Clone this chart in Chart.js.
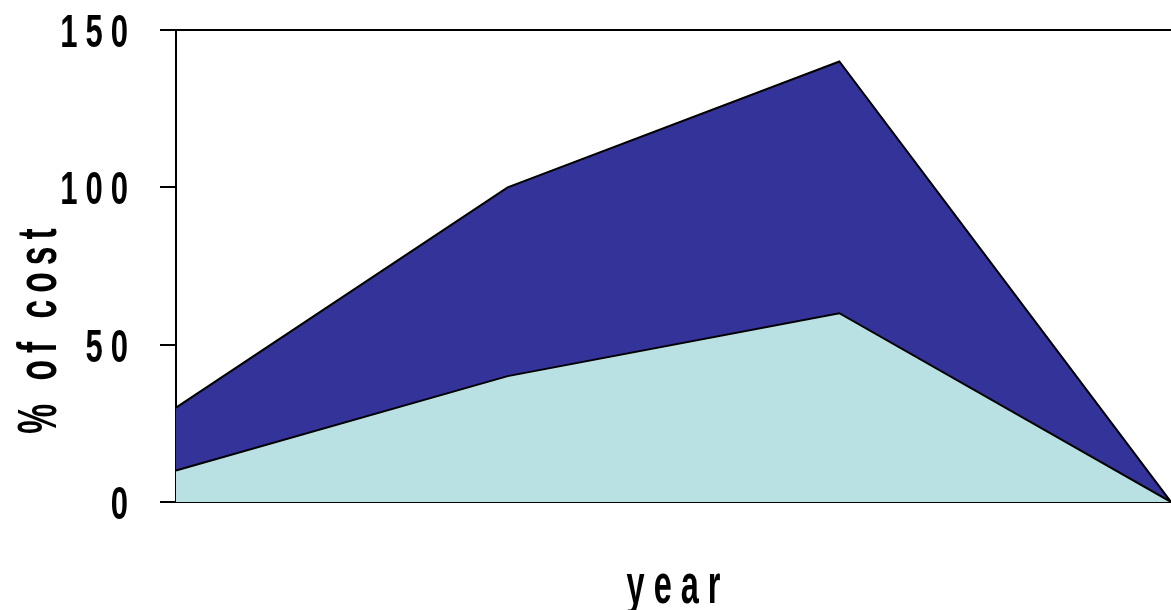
<!DOCTYPE html>
<html>
<head>
<meta charset="utf-8">
<script src="https://cdn.jsdelivr.net/npm/chart.js@4.4.1/dist/chart.umd.min.js"></script>
<style>
  html, body { margin: 0; padding: 0; background: #fff; }
  #wrap { width: 1171px; height: 610px; }
</style>
</head>
<body>
<div id="wrap"><canvas id="costChart"></canvas></div>
<script>
// chart data
const years = ['1', '2', '3', '4'];
const lowerShare = [10, 40, 60, 0];
const upperShare = [20, 60, 80, 0]; // stacked on lowerShare -> tops 30, 100, 140, 0
const yTicks = [0, 50, 100, 150];
const xTitle = 'year';
const yTitle = '% of cost';

// draw text condensed horizontally with extra gap between letters
function spacedText(ctx, text, font, sx, gap, x, y, align) {
    ctx.font = font;
    const chars = [...text];
    const widths = chars.map(ch => ctx.measureText(ch).width * sx);
    const total = widths.reduce((a, b) => a + b, 0) + gap * (chars.length - 1);
    let cx = align === 'right' ? x - total : align === 'center' ? x - total / 2 : x;
    chars.forEach((ch, i) => {
        ctx.save();
        ctx.translate(cx, y);
        ctx.scale(sx, 1);
        ctx.fillText(ch, 0, 0);
        ctx.restore();
        cx += widths[i] + gap;
    });
}

const labelFont = '"Liberation Sans", Arial, sans-serif';

const labelsPlugin = {
    id: 'condensedLabels',
    afterDraw(chart) {
        const { ctx, chartArea } = chart;
        const yScale = chart.scales.y;
        ctx.save();
        ctx.fillStyle = '#000';
        ctx.textBaseline = 'alphabetic';
        ctx.textAlign = 'left';

        // y tick labels
        yScale.ticks.forEach(t => {
            const py = yScale.getPixelForValue(t.value);
            spacedText(ctx, String(t.value), 'bold 47px ' + labelFont, 0.66, 8, 128, py + 17, 'right');
        });

        // x axis title
        spacedText(ctx, xTitle, 'bold 56px ' + labelFont, 0.58, 9,
            (chartArea.left + chartArea.right) / 2, 603, 'center');

        // y axis title, rotated
        ctx.save();
        ctx.translate(56, 331);
        ctx.rotate(-Math.PI / 2);
        spacedText(ctx, yTitle, 'bold 56px ' + labelFont, 0.6, 7, 0, 0, 'center');
        ctx.restore();

        ctx.restore();
    }
};

new Chart(document.getElementById('costChart'), {
    type: 'line',
    data: {
        labels: years,
        datasets: [
            {
                label: 'lower',
                data: lowerShare,
                fill: 'origin',
                backgroundColor: '#b9e0e3',
                borderColor: '#000',
                borderWidth: 2,
            },
            {
                label: 'upper',
                data: upperShare,
                fill: '-1',
                backgroundColor: '#333399',
                borderColor: '#000',
                borderWidth: 2,
            }
        ]
    },
    options: {
        responsive: true,
        maintainAspectRatio: false,
        animation: false,
        layout: { padding: { top: 30, left: 0, right: 0, bottom: 0 } },
        elements: {
            line: { tension: 0 },
            point: { radius: 0, hoverRadius: 0 }
        },
        plugins: {
            legend: { display: false },
            tooltip: { enabled: false }
        },
        scales: {
            x: {
                offset: false,
                ticks: { display: false },
                grid: { display: false, drawTicks: false },
                border: { color: '#000', width: 2 },
                afterFit: s => { s.height = 108; }
            },
            y: {
                stacked: true,
                min: yTicks[0],
                max: yTicks[yTicks.length - 1],
                afterBuildTicks: s => { s.ticks = yTicks.map(v => ({ value: v })); },
                ticks: { display: false },
                grid: {
                    color: c => (c.tick && c.tick.value === 150) ? '#000' : 'rgba(0,0,0,0)',
                    tickColor: '#000',
                    tickLength: 16,
                    lineWidth: 2
                },
                border: { color: '#000', width: 2 },
                afterFit: s => { s.width = 176; }
            }
        }
    },
    plugins: [labelsPlugin]
});
</script>
</body>
</html>
